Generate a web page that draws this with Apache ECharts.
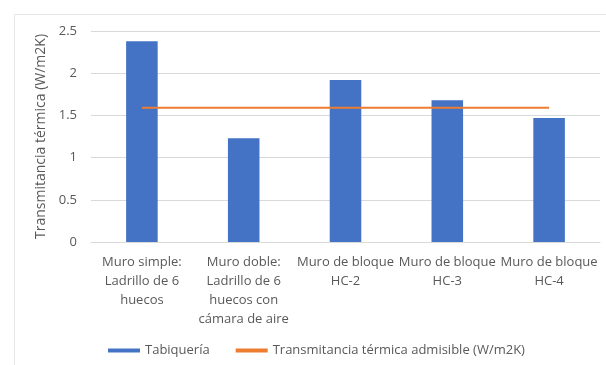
<!DOCTYPE html>
<html>
<head>
<meta charset="utf-8">
<style>
  html, body { margin: 0; padding: 0; background: #fff; }
  #chart { width: 606px; height: 365px; }
</style>
<script src="https://cdn.jsdelivr.net/npm/echarts@6/dist/echarts.min.js"></script>
</head>
<body>
<div id="chart"></div>
<script>
// Chart data
const categories = [
    'Muro simple:\nLadrillo de 6\nhuecos',
    'Muro doble:\nLadrillo de 6\nhuecos con\ncámara de aire',
    'Muro de bloque\nHC-2',
    'Muro de bloque\nHC-3',
    'Muro de bloque\nHC-4'
];
const tabiqueria = [2.38, 1.23, 1.92, 1.68, 1.47];
const admisible = [1.59, 1.59, 1.59, 1.59, 1.59];
const yTicks = [0, 0.5, 1, 1.5, 2, 2.5];

const barName = 'Tabiquería';
const lineName = 'Transmitancia térmica admisible (W/m2K)';

const chart = echarts.init(document.getElementById('chart'));
const font = 'Open Sans';
const textColor = '#595959';

const option = {
    backgroundColor: '#fff',
    textStyle: { fontFamily: font },
    graphic: [{
        type: 'rect',
        left: 12, top: 12,
        shape: { width: 600, height: 360 },
        style: { fill: 'none', stroke: '#e6e6e6', lineWidth: 1 },
        silent: true
    }],
    grid: { left: 91, right: 6, top: 31, bottom: 123 },
    legend: {
        left: 103,
        top: 339,
        itemWidth: 32,
        itemHeight: 4,
        itemGap: 26,
        textStyle: { color: textColor, fontSize: 13, fontFamily: font },
        data: [
            { name: barName, icon: 'rect' },
            { name: lineName, icon: 'rect' }
        ]
    },
    xAxis: {
        type: 'category',
        data: categories,
        axisTick: { show: false },
        axisLine: { lineStyle: { color: '#d9d9d9' } },
        axisLabel: {
            interval: 0,
            color: textColor,
            fontSize: 13,
            lineHeight: 19,
            margin: 11
        }
    },
    yAxis: {
        type: 'value',
        min: yTicks[0],
        max: yTicks[yTicks.length - 1],
        interval: 0.5,
        name: 'Transmitancia térmica (W/m2K)',
        nameLocation: 'middle',
        nameGap: 41,
        nameTextStyle: { color: textColor, fontSize: 14 },
        axisLine: { show: false },
        axisTick: { show: false },
        axisLabel: { color: textColor, fontSize: 13, margin: 14 },
        splitLine: { lineStyle: { color: '#d9d9d9' } }
    },
    series: [
        {
            name: barName,
            type: 'bar',
            data: tabiqueria,
            barWidth: '31%',
            itemStyle: { color: '#4472C4' }
        },
        {
            name: lineName,
            type: 'line',
            data: admisible,
            symbol: 'none',
            lineStyle: { color: '#ED7D31', width: 2 },
            itemStyle: { color: '#ED7D31' }
        }
    ]
};

chart.setOption(option);
</script>
</body>
</html>
